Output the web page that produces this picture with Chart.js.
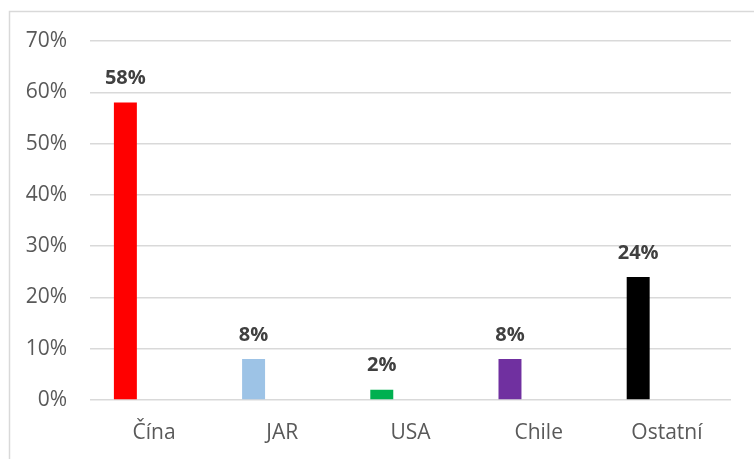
<!DOCTYPE html>
<html>
<head>
<meta charset="utf-8">
<script src="https://cdn.jsdelivr.net/npm/chart.js@4"></script>
<style>
  html, body { margin: 0; padding: 0; background: #fff; }
  #wrap { width: 754px; height: 459px; position: relative; }
</style>
</head>
<body>
<div id="wrap"><canvas id="shareChart"></canvas></div>
<script>
const countries = ["Čína", "JAR", "USA", "Chile", "Ostatní"];
const shares = [58, 8, 2, 8, 24];
const barColors = ["#ff0000", "#9dc3e6", "#00b050", "#7030a0", "#000000"];
const yTicks = [0, 10, 20, 30, 40, 50, 60, 70];

document.addEventListener("DOMContentLoaded", () => {
  // frame around the chart (top + left edge only visible)
  const framePlugin = {
    id: "frame",
    beforeDraw(chart) {
      const ctx = chart.ctx;
      ctx.save();
      ctx.strokeStyle = "#d9d9d9";
      ctx.lineWidth = 1.5;
      ctx.beginPath();
      ctx.moveTo(9.5, chart.height);
      ctx.lineTo(9.5, 11.5);
      ctx.lineTo(chart.width, 11.5);
      ctx.stroke();
      ctx.restore();
    },
  };

  // value labels above bars
  const valueLabels = {
    id: "valueLabels",
    afterDatasetsDraw(chart) {
      const ctx = chart.ctx;
      const meta = chart.getDatasetMeta(0);
      ctx.save();
      ctx.font = "bold 20px 'Open Sans'";
      ctx.fillStyle = "#404040";
      ctx.textAlign = "center";
      ctx.textBaseline = "middle";
      meta.data.forEach((bar, i) => {
        ctx.fillText(shares[i] + "%", bar.x, bar.y - 24);
      });
      ctx.restore();
    },
  };

  const ctx = document.getElementById("shareChart").getContext("2d");
  new Chart(ctx, {
    type: "bar",
    data: {
      labels: countries,
      datasets: [
        {
          data: shares,
          backgroundColor: barColors,
          barPercentage: 0.4,
          categoryPercentage: 0.896,
        },
        {
          data: shares.map(() => null),
          barPercentage: 0.4,
          categoryPercentage: 0.896,
        },
      ],
    },
    options: {
      responsive: true,
      maintainAspectRatio: false,
      animation: false,
      layout: { padding: { top: 41, right: 23, left: 0, bottom: 0 } },
      plugins: {
        legend: { display: false },
        tooltip: { enabled: false },
      },
      scales: {
        x: {
          grid: { display: false, drawTicks: false },
          border: { display: false },
          ticks: {
            color: "#595959",
            font: { family: "'Open Sans'", size: 21 },
            padding: 20,
            maxRotation: 0,
          },
          afterFit(scale) {
            scale.height = 59;
          },
        },
        y: {
          min: 0,
          max: 70,
          afterBuildTicks(scale) {
            scale.ticks = yTicks.map((v) => ({ value: v }));
          },
          grid: { color: "#d9d9d9", lineWidth: 1.5, drawTicks: false },
          border: { display: false },
          ticks: {
            color: "#595959",
            font: { family: "'Open Sans'", size: 21 },
            padding: 23,
            callback: (v) => v + "%",
          },
          afterFit(scale) {
            scale.width = 90;
          },
        },
      },
    },
    plugins: [framePlugin, valueLabels],
  });
});
</script>
</body>
</html>
